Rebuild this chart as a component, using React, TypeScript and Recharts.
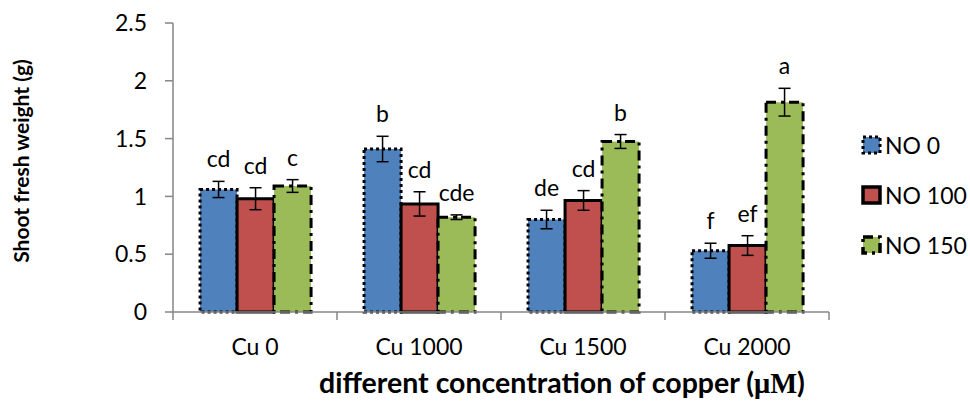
import React from 'react';
import { BarChart, Bar, XAxis, YAxis, ErrorBar, LabelList, Legend, Label } from 'recharts';

const categories = ['Cu 0', 'Cu 1000', 'Cu 1500', 'Cu 2000'];
const no0 = [1.06, 1.41, 0.8, 0.53];
const no0Err = [0.07, 0.11, 0.08, 0.065];
const no100 = [0.98, 0.935, 0.965, 0.575];
const no100Err = [0.095, 0.105, 0.085, 0.085];
const no150 = [1.09, 0.82, 1.475, 1.815];
const no150Err = [0.055, 0.02, 0.06, 0.12];
const letters0 = ['cd', 'b', 'de', 'f'];
const letters100 = ['cd', 'cd', 'cd', 'ef'];
const letters150 = ['c', 'cde', 'b', 'a'];
const yTicks = [0, 0.5, 1, 1.5, 2, 2.5];
const seriesNames = ['NO 0', 'NO 100', 'NO 150'];

const data = categories.map((cat, i) => ({
  cat,
  v0: no0[i], e0: no0Err[i], l0: letters0[i],
  v100: no100[i], e100: no100Err[i], l100: letters100[i],
  v150: no150[i], e150: no150Err[i], l150: letters150[i],
}));

const FONT = 'Lato, "Open Sans", sans-serif';
const AXIS = '#868686';
const FS = 23;

const BLUE = '#4F81BD';
const RED = '#C0504D';
const GREEN = '#9BBB59';
const DOT = '3 3';
const DASHDOT = '10 5 3 5';

const makeLabel = (vals: number[], errs: number[], letters: string[]) => (props: any) => {
  const { x, y, width, height, index } = props;
  const v = vals[index];
  const ppu = Number(height) / v;
  const top = Number(y) - errs[index] * ppu;
  return (
    <text x={Number(x) + Number(width) / 2} y={top - 14} textAnchor="middle" fill="#000"
      style={{ fontFamily: FONT, fontSize: FS }}>
      {letters[index]}
    </text>
  );
};

const XTick = (props: any) => {
  const { x, y, payload, index, visibleTicksCount, width } = props;
  const band = typeof width === 'number' && visibleTicksCount ? width / visibleTicksCount : 164;
  const half = band / 2;
  return (
    <g>
      <line x1={x - half} y1={y} x2={x - half} y2={y + 8} stroke={AXIS} strokeWidth={1.5} />
      {index === visibleTicksCount - 1 && (
        <line x1={x + half} y1={y} x2={x + half} y2={y + 8} stroke={AXIS} strokeWidth={1.5} />
      )}
      <text x={x} y={y + 43} textAnchor="middle" fill="#000" style={{ fontFamily: FONT, fontSize: FS }}>
        {payload.value}
      </text>
    </g>
  );
};

const XTitle = (props: any) => {
  const vb = props.viewBox || { x: 173, width: 656, y: 312 };
  const cx = vb.x + vb.width / 2 + 61;
  return (
    <text x={cx} y={vb.y + 81} textAnchor="middle" fill="#000" style={{ fontFamily: FONT, fontSize: 28.5, fontWeight: 700 }}>
      different concentration of copper (
      <tspan style={{ fontFamily: '"Liberation Serif", serif', fontWeight: 700 }}>μM</tspan>)
    </text>
  );
};

const YTitle = () => (
  <text x={0} y={0} transform="translate(29,161) rotate(-90)" textAnchor="middle" fill="#000"
    style={{ fontFamily: FONT, fontSize: 21, fontWeight: 700 }}>
    Shoot fresh weight (g)
  </text>
);

const swatches = [
  { fill: BLUE, dash: DOT, sw: 3 },
  { fill: RED, dash: undefined, sw: 3.5 },
  { fill: GREEN, dash: DASHDOT, sw: 3.5 },
];

const LegendContent = () => (
  <div style={{ width: 110 }}>
    {seriesNames.map((name, i) => (
      <div key={name} style={{ height: 50, display: 'flex', alignItems: 'center' }}>
        <svg width={24} height={20} style={{ display: 'block' }}>
          <rect x={3} y={2} width={17} height={16} fill={swatches[i].fill} stroke="#000"
            strokeWidth={swatches[i].sw} strokeDasharray={swatches[i].dash} />
        </svg>
        <span style={{ fontFamily: FONT, fontSize: FS, color: '#000', marginLeft: 1 }}>{name}</span>
      </div>
    ))}
  </div>
);

export default function App() {
  return (
    <div style={{ position: 'absolute', left: 0, top: 0, width: 970, height: 415, background: '#fff' }}>
      <BarChart width={970} height={415} data={data} barCategoryGap="16.5%" barGap={0}
        margin={{ top: 23, right: 31, bottom: 0, left: 0 }}>
        <XAxis dataKey="cat" height={103} axisLine={{ stroke: AXIS, strokeWidth: 1.5 }} tickLine={false}
          tickSize={0} tickMargin={0} tick={<XTick />} interval={0}>
          <Label content={<XTitle />} />
        </XAxis>
        <YAxis width={173} domain={[0, 2.5]} ticks={yTicks} interval={0}
          axisLine={{ stroke: AXIS, strokeWidth: 1.5 }} tickLine={{ stroke: AXIS, strokeWidth: 1.5 }}
          tickSize={8} tickMargin={18}
          tick={{ fill: '#000', fontSize: FS, fontFamily: FONT }}>
          <Label content={<YTitle />} />
        </YAxis>
        <Legend layout="vertical" align="right" verticalAlign="middle" content={<LegendContent />}
          wrapperStyle={{ left: 860, top: 120, right: 'auto', width: 110 }} />
        <Bar dataKey="v0" name="NO 0" fill={BLUE} stroke="#000" strokeWidth={3} strokeDasharray={DOT} isAnimationActive={false}>
          <ErrorBar dataKey="e0" width={6} stroke="#000" strokeWidth={1.5} direction="y" />
          <LabelList dataKey="l0" content={makeLabel(no0, no0Err, letters0)} />
        </Bar>
        <Bar dataKey="v100" name="NO 100" fill={RED} stroke="#000" strokeWidth={3} isAnimationActive={false}>
          <ErrorBar dataKey="e100" width={6} stroke="#000" strokeWidth={1.5} direction="y" />
          <LabelList dataKey="l100" content={makeLabel(no100, no100Err, letters100)} />
        </Bar>
        <Bar dataKey="v150" name="NO 150" fill={GREEN} stroke="#000" strokeWidth={3} strokeDasharray={DASHDOT} isAnimationActive={false}>
          <ErrorBar dataKey="e150" width={6} stroke="#000" strokeWidth={1.5} direction="y" />
          <LabelList dataKey="l150" content={makeLabel(no150, no150Err, letters150)} />
        </Bar>
      </BarChart>
    </div>
  );
}
